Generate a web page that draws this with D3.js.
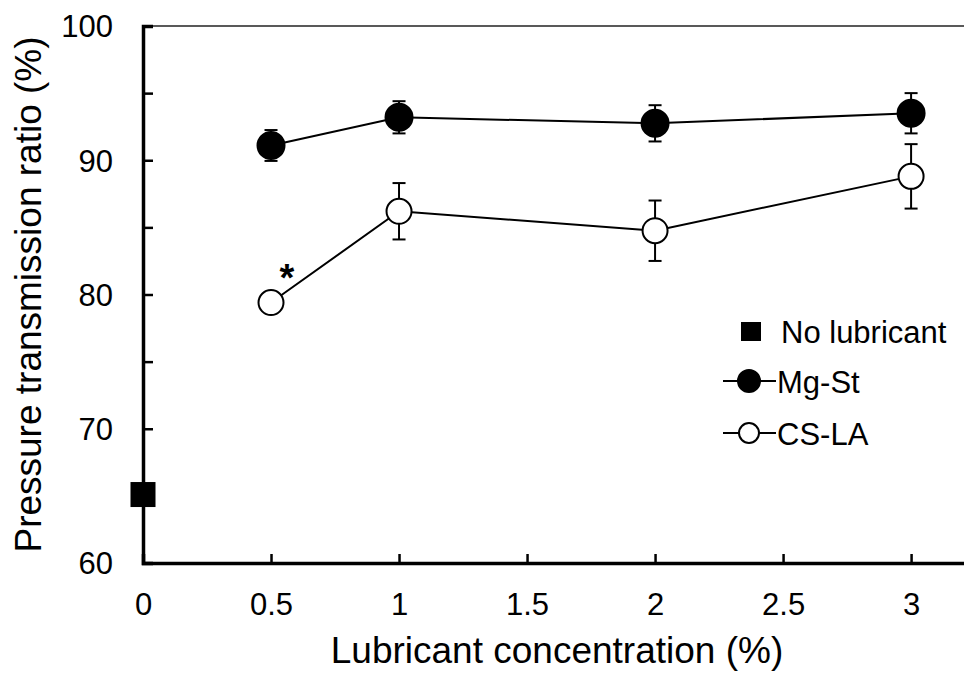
<!DOCTYPE html>
<html>
<head>
<meta charset="utf-8">
<script src="https://cdn.jsdelivr.net/npm/d3@7"></script>
<style>
	body { margin: 0; background: #fff; }
	text { font-family: "Liberation Sans", Arial, sans-serif; }
</style>
</head>
<body>
<svg id="chart" width="964" height="673"></svg>
<script>
	// concentrations (%)
	const concentrations = [0.5, 1, 2, 3]
	const mgStMean = [91.1, 93.2, 92.75, 93.5]
	const mgStSd = [1.15, 1.2, 1.35, 1.5]
	const csLaMean = [79.4, 86.2, 84.75, 88.8]
	const csLaSd = [0.8, 2.1, 2.25, 2.4]
	const noLubX = [0]
	const noLubMean = [65.1]
	const yTicks = [60, 65, 70, 75, 80, 85, 90, 95, 100]
	const xTicks = [0, 0.5, 1, 1.5, 2, 2.5, 3]

	const svg = d3.select('#chart')
	const plotL = 143, plotT = 26, plotB = 563, plotR = 971

	const x = d3.scaleLinear().domain([0, 3.234]).range([plotL, plotR])
	const y = d3.scaleLinear().domain([60, 100]).range([plotB, plotT])

	// top frame line
	svg.append('line')
		.attr('x1', plotL).attr('x2', plotR)
		.attr('y1', plotT).attr('y2', plotT)
		.style('stroke', '#222').style('stroke-width', 1.6)

	const yAxis = svg.append('g')
		.attr('transform', 'translate(' + plotL + ',0)')
		.call(d3.axisLeft(y).tickValues(yTicks).tickSize(-10).tickPadding(30)
			.tickFormat(d => d % 10 === 0 ? d : ''))
	const xAxis = svg.append('g')
		.attr('transform', 'translate(0,' + plotB + ')')
		.call(d3.axisBottom(x).tickValues(xTicks).tickSize(-9).tickPadding(30)
			.tickFormat(d => d))

	;[yAxis, xAxis].forEach(a => {
		a.select('.domain').style('stroke', '#000').style('stroke-width', 3.5)
		a.selectAll('.tick line').style('stroke', '#000').style('stroke-width', 2.5)
		a.selectAll('.tick text').style('font-size', '31px').style('fill', '#000')
			.style('font-family', '"Liberation Sans", Arial, sans-serif')
	})
	yAxis.selectAll('.tick text').attr('dy', '0.35em')
	xAxis.selectAll('.tick text').attr('y', 52).attr('dy', 0)

	// axis titles
	svg.append('text')
		.attr('x', 557).attr('y', 663)
		.attr('text-anchor', 'middle')
		.style('font-size', '37px')
		.text('Lubricant concentration (%)')
	svg.append('text')
		.attr('transform', 'translate(41,' + ((plotT + plotB) / 2) + ') rotate(-90)')
		.attr('text-anchor', 'middle')
		.style('font-size', '37px')
		.text('Pressure transmission ratio (%)')

	function drawSeries(means, sds, filled, r) {
		const pts = concentrations.map((c, i) => ({ c: c, m: means[i], s: sds[i] }))
		const g = svg.append('g')
		g.append('path')
			.datum(pts)
			.attr('d', d3.line().x(d => x(d.c)).y(d => y(d.m)))
			.style('fill', 'none').style('stroke', '#000').style('stroke-width', 2)
		const eb = g.selectAll('g.err').data(pts).enter().append('g')
		eb.append('line')
			.attr('x1', d => x(d.c)).attr('x2', d => x(d.c))
			.attr('y1', d => y(d.m - d.s)).attr('y2', d => y(d.m + d.s))
			.style('stroke', '#000').style('stroke-width', 2)
		eb.selectAll('line.cap').data(d => [d.m - d.s, d.m + d.s].map(v => ({ c: d.c, v: v })))
			.enter().append('line')
			.attr('x1', d => x(d.c) - 6.5).attr('x2', d => x(d.c) + 6.5)
			.attr('y1', d => y(d.v)).attr('y2', d => y(d.v))
			.style('stroke', '#000').style('stroke-width', 2)
		g.selectAll('circle').data(pts).enter().append('circle')
			.attr('cx', d => x(d.c)).attr('cy', d => y(d.m))
			.attr('r', r)
			.style('fill', filled ? '#000' : '#fff')
			.style('stroke', '#000').style('stroke-width', 2)
	}

	drawSeries(mgStMean, mgStSd, true, 13.5)
	drawSeries(csLaMean, csLaSd, false, 12.5)

	// no lubricant
	svg.selectAll('rect.nolub').data(noLubX).enter().append('rect')
		.attr('x', (d) => x(d) - 12.5).attr('y', (d, i) => y(noLubMean[i]) - 12.5)
		.attr('width', 25).attr('height', 25)
		.style('fill', '#000')

	// significance mark
	svg.append('text')
		.attr('x', x(0.5) + 16).attr('y', 291)
		.attr('text-anchor', 'middle')
		.style('font-size', '38px').style('font-weight', 'bold')
		.text('*')

	// legend
	const lg = svg.append('g')
	lg.append('rect').attr('x', 741).attr('y', 322).attr('width', 20).attr('height', 19).style('fill', '#000')
	lg.append('text').attr('x', 781).attr('y', 343).style('font-size', '31px').text('No lubricant')
	const legRows = [{ y: 381, filled: true, name: 'Mg-St' }, { y: 433, filled: false, name: 'CS-LA' }]
	legRows.forEach(row => {
		lg.append('line').attr('x1', 723).attr('x2', 776).attr('y1', row.y).attr('y2', row.y)
			.style('stroke', '#000').style('stroke-width', 2)
		lg.append('circle').attr('cx', 749).attr('cy', row.y).attr('r', row.filled ? 11 : 10)
			.style('fill', row.filled ? '#000' : '#fff').style('stroke', '#000').style('stroke-width', 2)
		lg.append('text').attr('x', 777).attr('y', row.y + 12).style('font-size', '31px').text(row.name)
	})
</script>
</body>
</html>
